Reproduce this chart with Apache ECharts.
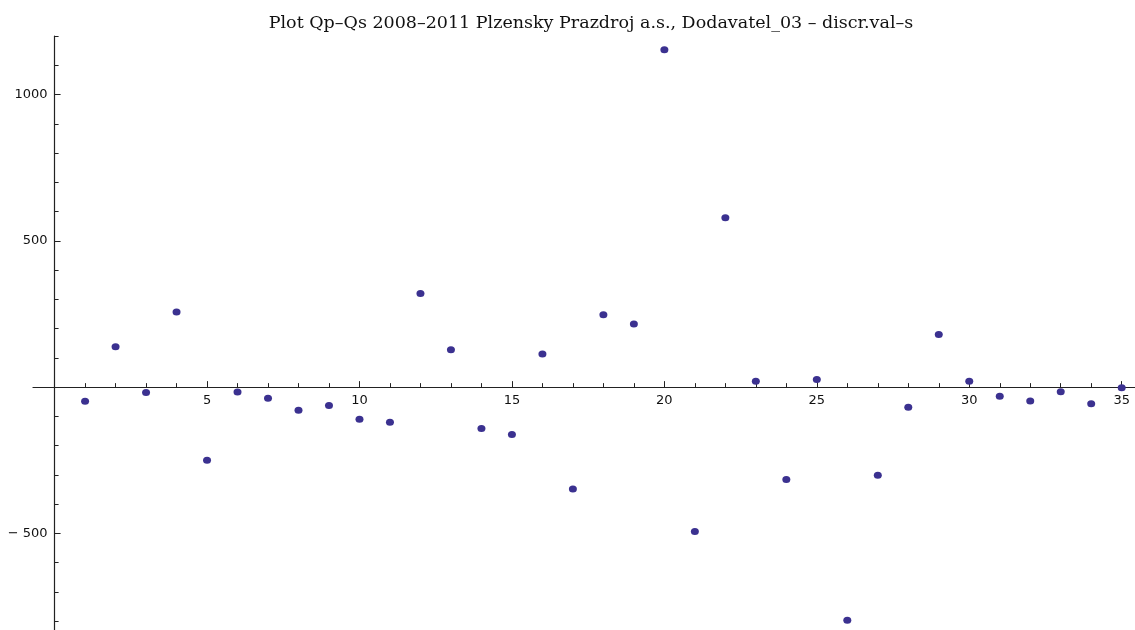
<!DOCTYPE html>
<html>
<head>
<meta charset="utf-8">
<script src="https://cdn.jsdelivr.net/npm/echarts@6/dist/echarts.min.js"></script>
<style>
  html, body { margin: 0; padding: 0; background: #ffffff; }
  #chart { width: 1135px; height: 630px; }
</style>
</head>
<body>
<div id="chart"></div>
<script>
// Qp - Qs differences per period, supplier 03
const periods = [
  1, 2, 3, 4, 5, 6, 7, 8, 9, 10,
  11, 12, 13, 14, 15, 16, 17, 18, 19, 20,
  21, 22, 23, 24, 25, 26, 27, 28, 29, 30,
  31, 32, 33, 34, 35
];
const diffs = [
  -48, 138, -18, 257, -250, -17, -38, -79, -63, -110,
  -120, 320, 128, -141, -162, 113, -348, 247, 216, 1153,
  -493, 579, 20, -316, 26, -797, -301, -69, 180, 20,
  -31, -47, -16, -57, -2
];
const xMajorTicks = [5, 10, 15, 20, 25, 30, 35];
const xMinorTicks = [1,2,3,4,6,7,8,9,11,12,13,14,16,17,18,19,21,22,23,24,26,27,28,29,31,32,33,34];
const yMajorTicks = [-500, 500, 1000];
const yMinorTicks = [-800,-700,-600,-400,-300,-200,-100,100,200,300,400,600,700,800,900,1100,1200];

const titleText = 'Plot Qp\u2013Qs 2008\u20132011 Plzensky Prazdroj a.s., Dodavatel_03 \u2013 discr.val\u2013s';

// plot window and value ranges
const W = 1135, H = 630;
const GRID = { left: 33, right: 0, top: 36, bottom: 0 };
const X_MIN = -0.708, X_MAX = 35.436;
const Y_MIN = -830, Y_MAX = 1200;

// axes cross at the origin: shift each axis from the grid edge to the zero line
const gridW = W - GRID.left - GRID.right;
const gridH = H - GRID.top - GRID.bottom;
const yAxisShift = -gridW * (0 - X_MIN) / (X_MAX - X_MIN);
const xAxisShift = -gridH * (0 - Y_MIN) / (Y_MAX - Y_MIN);

const axisColor = '#222222';
const labelFont = { fontFamily: 'DejaVu Sans', fontSize: 13, color: '#111111' };

function yLabel(v) {
  return v < 0 ? '\u2212 ' + Math.abs(v) : String(v);
}

const chart = echarts.init(document.getElementById('chart'), null, { renderer: 'canvas' });
chart.setOption({
  animation: false,
  backgroundColor: '#ffffff',
  title: {
    text: titleText,
    left: 586,
    top: 9,
    textAlign: 'center',
    textStyle: { fontFamily: 'DejaVu Serif', fontSize: 17.5, fontWeight: 'normal', color: '#111111' }
  },
  grid: { ...GRID, containLabel: false, outerBoundsMode: 'none' },
  xAxis: [
    {
      type: 'value', min: X_MIN, max: X_MAX, position: 'bottom', offset: xAxisShift,
      splitLine: { show: false },
      axisLine: { show: true, onZero: false, lineStyle: { color: axisColor, width: 1.2 } },
      axisTick: { show: true, inside: true, length: 6, customValues: xMajorTicks, lineStyle: { color: axisColor } },
      axisLabel: { show: true, margin: 7, customValues: xMajorTicks, ...labelFont }
    },
    {
      type: 'value', min: X_MIN, max: X_MAX, position: 'bottom', offset: xAxisShift,
      splitLine: { show: false },
      axisLine: { show: false, onZero: false },
      axisTick: { show: true, inside: true, length: 4, customValues: xMinorTicks, lineStyle: { color: axisColor } },
      axisLabel: { show: false }
    }
  ],
  yAxis: [
    {
      type: 'value', min: Y_MIN, max: Y_MAX, position: 'left', offset: yAxisShift,
      splitLine: { show: false },
      axisLine: { show: true, onZero: false, lineStyle: { color: axisColor, width: 1.2 } },
      axisTick: { show: true, inside: true, length: 6, customValues: yMajorTicks, lineStyle: { color: axisColor } },
      axisLabel: { show: true, margin: 7, customValues: yMajorTicks, formatter: yLabel, ...labelFont }
    },
    {
      type: 'value', min: Y_MIN, max: Y_MAX, position: 'left', offset: yAxisShift,
      splitLine: { show: false },
      axisLine: { show: false, onZero: false },
      axisTick: { show: true, inside: true, length: 4, customValues: yMinorTicks, lineStyle: { color: axisColor } },
      axisLabel: { show: false }
    }
  ],
  series: [{
    type: 'scatter',
    xAxisIndex: 0,
    yAxisIndex: 0,
    data: periods.map((p, i) => [p, diffs[i]]),
    symbol: 'circle',
    symbolSize: [8, 7],
    itemStyle: { color: '#3b3190', opacity: 1 },
    clip: false
  }]
});
</script>
</body>
</html>
